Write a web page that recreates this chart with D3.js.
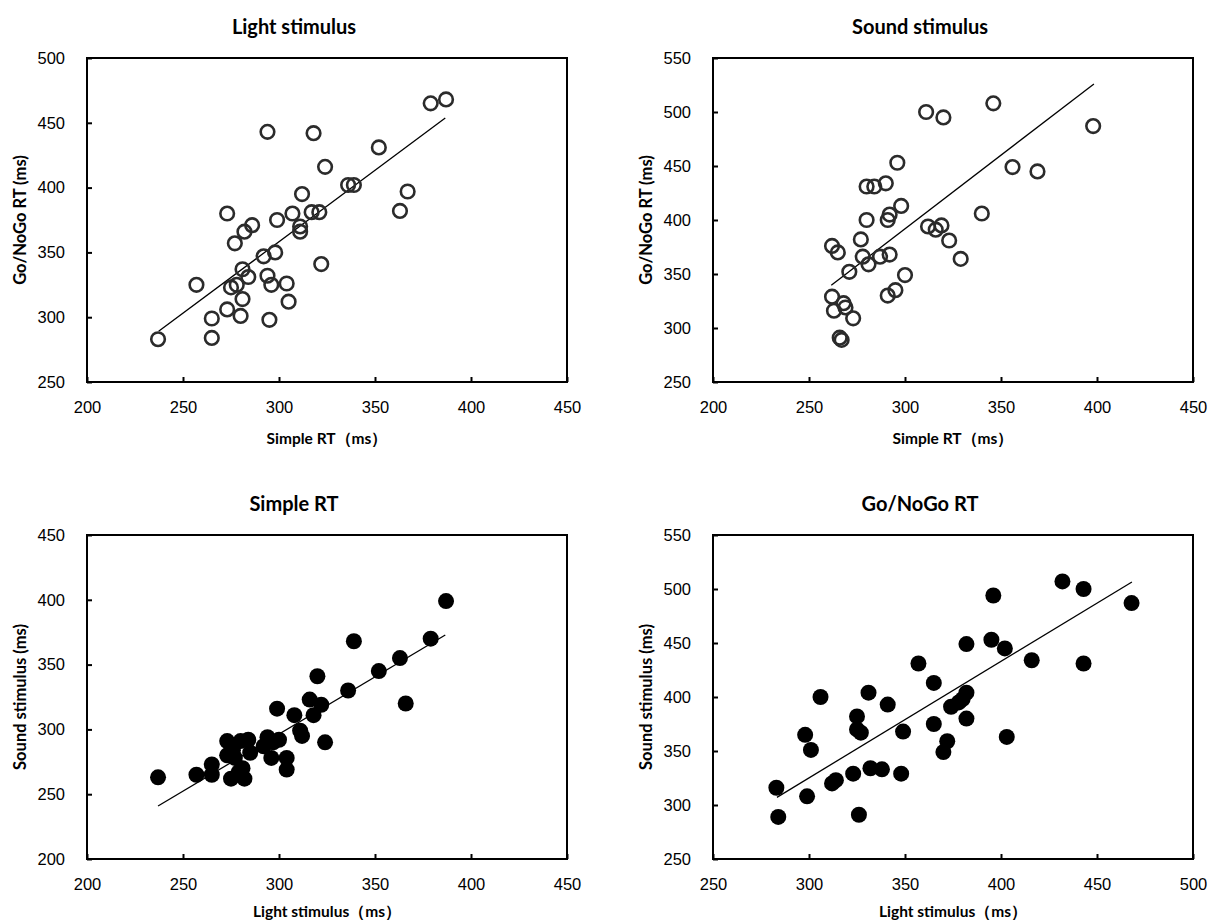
<!DOCTYPE html>
<html>
<head>
<meta charset="utf-8">
<script src="https://cdn.jsdelivr.net/npm/d3@7"></script>
<style>
  body { margin: 0; background: #fff; }
  svg { font-family: Lato, "Noto Sans", sans-serif; }
</style>
</head>
<body>
<div id="chart"></div>
<script>
// Light stimulus: simple RT vs Go/NoGo RT
const lightSimple = [237, 265, 265, 257, 273, 280, 281, 275, 278, 281, 284, 277, 282, 286, 273, 294, 292, 298, 294, 296,
  295, 299, 304, 305, 307, 311, 311, 312, 317, 321, 318, 324, 322, 336, 339, 352, 363, 367, 379, 387]
const lightGoNoGo = [283, 299, 284, 325, 306, 301, 314, 323, 325, 337, 331, 357, 366, 371, 380, 443, 347, 350, 332, 325,
  298, 375, 326, 312, 380, 370, 366, 395, 381, 381, 442, 416, 341, 402, 402, 431, 382, 397, 465, 468]

// Sound stimulus: simple RT vs Go/NoGo RT
const soundSimple = [311, 320, 346, 398, 296, 356, 369, 280, 284, 290, 298, 340, 292, 291, 280, 312, 316, 319, 323, 329,
  277, 262, 265, 278, 281, 287, 292, 271, 300, 262, 263, 268, 269, 273, 291, 295, 266, 267]
const soundGoNoGo = [500, 495, 508, 487, 453, 449, 445, 431, 431, 434, 413, 406, 405, 400, 400, 394, 391, 395, 381, 364,
  382, 376, 370, 366, 359, 366, 368, 352, 349, 329, 316, 323, 319, 309, 330, 335, 291, 289]

// Simple RT: light vs sound
const simpleLight = [237, 257, 265, 265, 273, 280, 284, 273, 277, 285, 275, 282, 279, 294, 297, 292, 296, 304, 304, 299,
  308, 311, 312, 324, 316, 318, 322, 320, 336, 339, 352, 363, 366, 379, 387, 281, 300, 276]
const simpleSound = [263, 265, 273, 265, 291, 291, 292, 280, 278, 282, 262, 262, 267, 294, 290, 287, 278, 278, 269, 316,
  311, 299, 295, 290, 323, 311, 319, 341, 330, 368, 345, 355, 320, 370, 399, 270, 292, 284]

// Go/NoGo RT: light vs sound
const goLight = [283, 284, 299, 298, 301, 306, 312, 314, 323, 325, 325, 327, 326, 331, 332, 338, 341, 348, 349, 357,
  365, 365, 370, 372, 374, 378, 382, 382, 382, 396, 395, 402, 403, 416, 432, 443, 443, 468, 380]
const goSound = [316, 289, 308, 365, 351, 400, 320, 323, 329, 382, 370, 367, 291, 404, 334, 333, 393, 329, 368, 431,
  413, 375, 349, 359, 391, 395, 380, 404, 449, 494, 453, 445, 363, 434, 507, 500, 431, 487, 398]

// linear trend lines, endpoints [[x0, y0], [x1, y1]]
const trendLight = [[237.3, 289.1], [386.6, 453.7]]
const trendSound = [[261.6, 339.5], [398.4, 526]]
const trendSimple = [[237, 240.9], [386.6, 372.8]]
const trendGoNoGo = [[283.3, 307.1], [468.2, 506.5]]

const titles = ['Light stimulus', 'Sound stimulus', 'Simple RT', 'Go/NoGo RT']
const xLabels = ['Simple RT\uFF08ms\uFF09', 'Simple RT\uFF08ms\uFF09', 'Light stimulus\uFF08ms\uFF09', 'Light stimulus\uFF08ms\uFF09']
const yLabels = ['Go/NoGo RT (ms)', 'Go/NoGo RT (ms)', 'Sound stimulus (ms)', 'Sound stimulus (ms)']
const xDomains = [[200, 450], [200, 450], [200, 450], [250, 500]]
const yDomains = [[250, 500], [250, 550], [200, 450], [250, 550]]

const panels = [
  { xs: lightSimple, ys: lightGoNoGo, trend: trendLight, filled: false, left: 87, top: 58 },
  { xs: soundSimple, ys: soundGoNoGo, trend: trendSound, filled: false, left: 713, top: 58 },
  { xs: simpleLight, ys: simpleSound, trend: trendSimple, filled: true, left: 87, top: 535 },
  { xs: goLight, ys: goSound, trend: trendGoNoGo, filled: true, left: 713, top: 535 }
]

const W = 480, H = 324

const svg = d3.select('#chart').append('svg')
  .attr('width', 1209)
  .attr('height', 923)

panels.forEach((p, i) => {
  const g = svg.append('g').attr('transform', 'translate(' + p.left + ',' + p.top + ')')
  const x = d3.scaleLinear().domain(xDomains[i]).range([0, W])
  const y = d3.scaleLinear().domain(yDomains[i]).range([H, 0])

  const xAxis = g.append('g')
    .attr('transform', 'translate(0,' + H + ')')
    .call(d3.axisBottom(x).ticks(5).tickSize(-5).tickSizeOuter(0).tickPadding(19))
  const yAxis = g.append('g')
    .call(d3.axisLeft(y).ticks(6).tickSize(-5).tickSizeOuter(0).tickPadding(22))

  ;[xAxis, yAxis].forEach(a => {
    a.select('.domain').remove()
    a.selectAll('line').attr('stroke', '#000').attr('stroke-width', 2)
    a.selectAll('text').attr('font-size', 16.5).attr('fill', '#000')
  })

  g.append('rect')
    .attr('width', W)
    .attr('height', H)
    .attr('fill', 'none')
    .attr('stroke', '#000')
    .attr('stroke-width', 2)

  // trend line
  g.append('path')
    .datum(p.trend)
    .attr('d', d3.line().x(d => x(d[0])).y(d => y(d[1])))
    .attr('fill', 'none')
    .attr('stroke', '#000')
    .attr('stroke-width', 1.3)

  // markers
  g.append('g')
    .selectAll('circle')
    .data(p.xs.map((v, k) => [v, p.ys[k]]))
    .enter().append('circle')
      .attr('cx', d => x(d[0]))
      .attr('cy', d => y(d[1]))
      .attr('r', p.filled ? 8 : 6.8)
      .attr('fill', p.filled ? '#000' : 'none')
      .attr('stroke', p.filled ? 'none' : '#2b2b2b')
      .attr('stroke-width', 2.6)

  // titles and labels
  g.append('text')
    .attr('x', 207)
    .attr('y', -24)
    .attr('text-anchor', 'middle')
    .attr('font-size', 20)
    .attr('font-weight', 'bold')
    .text(titles[i])

  g.append('text')
    .attr('x', W / 2)
    .attr('y', H + (i < 2 ? 62 : 58))
    .attr('text-anchor', 'middle')
    .attr('font-size', 15.5)
    .attr('font-weight', 'bold')
    .text(xLabels[i])

  g.append('text')
    .attr('transform', 'translate(-67,' + H / 2 + ') rotate(-90)')
    .attr('text-anchor', 'middle')
    .attr('dominant-baseline', 'central')
    .attr('font-size', 16.5)
    .attr('font-weight', 'bold')
    .text(yLabels[i])
})
</script>
</body>
</html>
